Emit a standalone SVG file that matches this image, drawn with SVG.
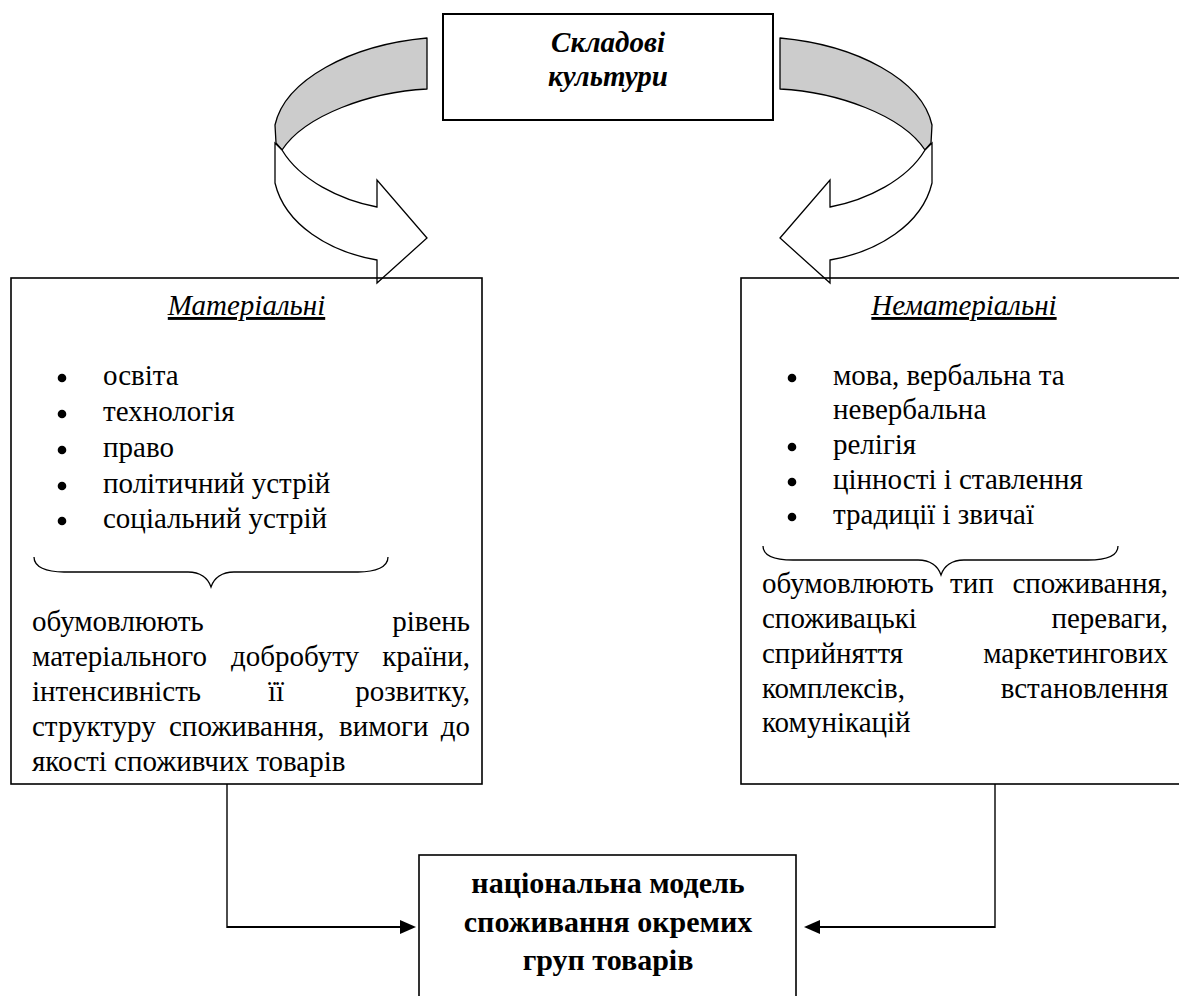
<svg xmlns="http://www.w3.org/2000/svg" xmlns:xlink="http://www.w3.org/1999/xlink" width="1179" height="996" viewBox="0 0 1179 996">
  <defs>
    <style>
      .box { fill: none; stroke: #000; stroke-width: 1.6; }
      .t { font-family: "Liberation Serif", "Times New Roman", serif; font-size: 29px; fill: #000; }
      .head { font-style: italic; text-decoration: underline; text-anchor: middle; }
      .title { font-weight: bold; font-style: italic; text-anchor: middle; }
      .bold { font-weight: bold; font-size: 30px; text-anchor: middle; }
      .end { text-anchor: end; }
      .dot { fill: #000; }
      .brace { fill: none; stroke: #000; stroke-width: 1.3; }
      .band { fill: #cccccc; stroke: #000; stroke-width: 1.3; stroke-linejoin: round; }
      .ribbon { fill: #fff; stroke: #000; stroke-width: 1.3; stroke-linejoin: miter; }
      .wire { fill: none; stroke: #000; stroke-width: 1.4; }
      .feed { fill: none; stroke: #000; stroke-width: 2.2; }
    </style>
    <marker id="tip" viewBox="0 0 16 14" refX="2" refY="7" markerWidth="16" markerHeight="14" markerUnits="userSpaceOnUse" orient="auto">
      <path d="M0,0 L16,7 L0,14 Z" fill="#000"/>
    </marker>
    <!-- twisted ribbon arrow curling down from the title box -->
    <g id="twist">
      <path class="band" d="M427,38 C350,45 285,80 275,125 L276,143 L282,150 C305,115 370,92 427,89 Z"/>
      <path class="ribbon" d="M282,150 C300,180 340,200 377,207 L377,180 L427,238 L377,283 L377,260 C330,252 285,225 275,183 L275,143 Z"/>
    </g>
  </defs>

  <rect width="1179" height="996" fill="#fff"/>

  <!-- curved arrows -->
  <g id="arrow-material">
    <use xlink:href="#twist"/>
  </g>
  <g id="arrow-immaterial">
    <use xlink:href="#twist" transform="matrix(-1,0,0,1,1207,0)"/>
  </g>

  <!-- title -->
  <g id="culture">
    <rect class="box" x="443" y="14" width="330" height="106" style="stroke-width:2"/>
    <text class="t title" x="608" y="52">Складові</text>
    <text class="t title" x="608" y="86">культури</text>
  </g>

  <!-- material components -->
  <g id="material">
    <rect class="box" x="11" y="278" width="471" height="506"/>
    <text class="t head" x="246.5" y="315">Матеріальні</text>
    <circle class="dot" cx="62" cy="378" r="4.3"/>
    <text class="t" x="103" y="385">освіта</text>
    <circle class="dot" cx="62" cy="414" r="4.3"/>
    <text class="t" x="103" y="421">технологія</text>
    <circle class="dot" cx="62" cy="450" r="4.3"/>
    <text class="t" x="103" y="457">право</text>
    <circle class="dot" cx="62" cy="486" r="4.3"/>
    <text class="t" x="103" y="493">політичний устрій</text>
    <circle class="dot" cx="62" cy="521" r="4.3"/>
    <text class="t" x="103" y="528">соціальний устрій</text>
    <path class="brace" d="M34,557 C34,567 46,572 64,572 L188,572 C200,572 208,578 211,587 C214,578 222,572 234,572 L358,572 C376,572 388,567 388,557"/>
    <text class="t" x="32" y="631">обумовлюють</text>
    <text class="t end" x="470" y="631">рівень</text>
    <text class="t" x="32" y="666">матеріального</text>
    <text class="t" x="231" y="666">добробуту</text>
    <text class="t end" x="470" y="666">країни,</text>
    <text class="t" x="32" y="701">інтенсивність</text>
    <text class="t" x="268" y="701">її</text>
    <text class="t end" x="470" y="701">розвитку,</text>
    <text class="t" x="32" y="736">структуру</text>
    <text class="t" x="169" y="736">споживання,</text>
    <text class="t" x="339" y="736">вимоги</text>
    <text class="t end" x="470" y="736">до</text>
    <text class="t" x="32" y="771">якості споживчих товарів</text>
  </g>

  <!-- immaterial components -->
  <g id="immaterial">
    <rect class="box" x="741" y="278" width="450" height="506"/>
    <text class="t head" x="964" y="315">Нематеріальні</text>
    <circle class="dot" cx="792" cy="378" r="4.3"/>
    <text class="t" x="833" y="385">мова, вербальна та</text>
    <text class="t" x="833" y="419">невербальна</text>
    <circle class="dot" cx="792" cy="447" r="4.3"/>
    <text class="t" x="833" y="454">релігія</text>
    <circle class="dot" cx="792" cy="482" r="4.3"/>
    <text class="t" x="833" y="489">цінності і ставлення</text>
    <circle class="dot" cx="792" cy="517" r="4.3"/>
    <text class="t" x="833" y="524">традиції і звичаї</text>
    <path class="brace" d="M763,546 C763,556 775,560 793,560 L918,560 C930,560 938,566 941,575 C944,566 952,560 964,560 L1088,560 C1106,560 1118,556 1118,546"/>
    <text class="t" x="762" y="593">обумовлюють</text>
    <text class="t" x="950" y="593">тип</text>
    <text class="t end" x="1168" y="593">споживання,</text>
    <text class="t" x="762" y="628">споживацькі</text>
    <text class="t end" x="1168" y="628">переваги,</text>
    <text class="t" x="762" y="663">сприйняття</text>
    <text class="t end" x="1168" y="663">маркетингових</text>
    <text class="t" x="762" y="698">комплексів,</text>
    <text class="t end" x="1168" y="698">встановлення</text>
    <text class="t" x="762" y="732">комунікацій</text>
  </g>

  <!-- national consumption model -->
  <g id="model">
    <rect class="box" x="419" y="855" width="377" height="160"/>
    <text class="t bold" x="608" y="893">національна модель</text>
    <text class="t bold" x="608" y="932">споживання окремих</text>
    <text class="t bold" x="608" y="970">груп товарів</text>
  </g>

  <!-- connectors -->
  <g id="connectors">
    <path class="wire" d="M227,784 V928"/>
    <path class="feed" d="M227,927 H402" marker-end="url(#tip)"/>
    <path class="wire" d="M995,784 V928"/>
    <path class="feed" d="M995,927 H818" marker-end="url(#tip)"/>
  </g>
</svg>
